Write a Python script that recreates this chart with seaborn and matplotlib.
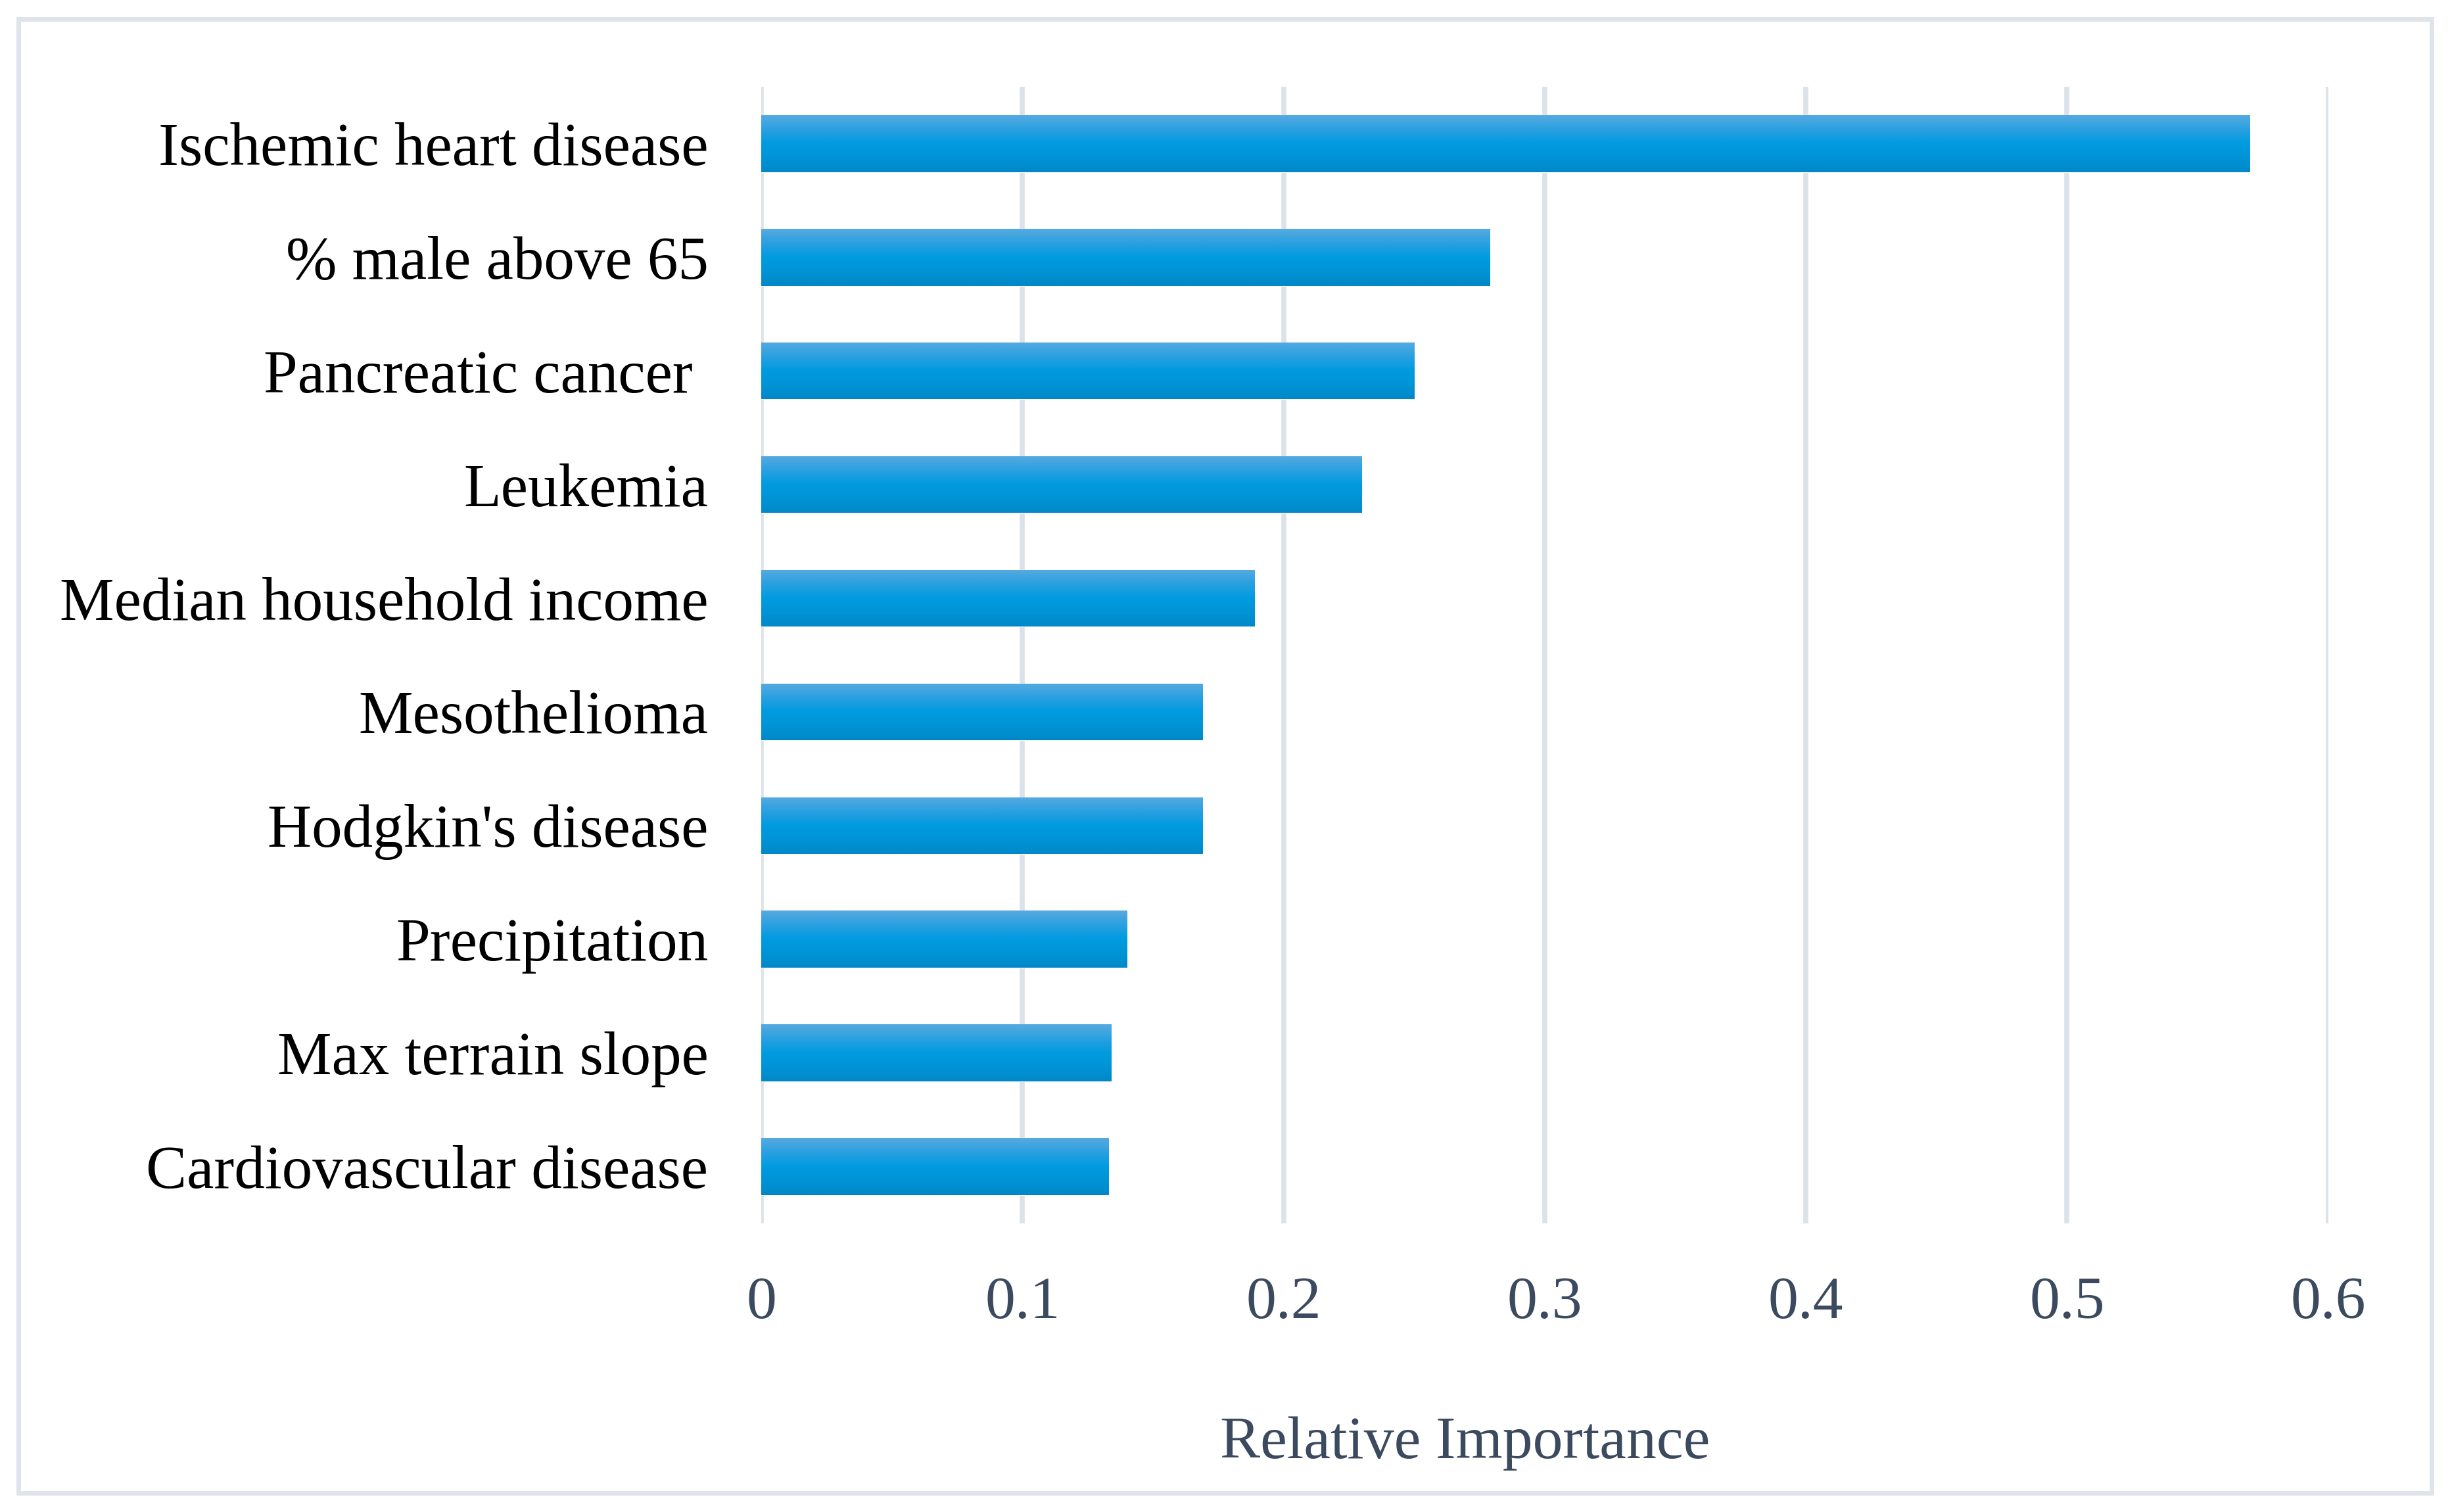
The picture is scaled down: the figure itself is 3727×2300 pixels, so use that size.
import numpy as np
import pandas as pd
import seaborn as sns
import matplotlib.pyplot as plt
from matplotlib.colors import LinearSegmentedColormap
from matplotlib.patches import Rectangle

features = ["Ischemic heart disease", "% male above 65", "Pancreatic cancer ",
            "Leukemia", "Median household income", "Mesothelioma",
            "Hodgkin's disease", "Precipitation", "Max terrain slope",
            "Cardiovascular disease"]
importance = [0.570, 0.279, 0.250, 0.230, 0.189, 0.169, 0.169, 0.140, 0.134, 0.133]
xticks = [0, 0.1, 0.2, 0.3, 0.4, 0.5, 0.6]
xtick_labels = ["0", "0.1", "0.2", "0.3", "0.4", "0.5", "0.6"]

data = pd.DataFrame({"feature": features, "importance": importance})

sns.set_style("white")
plt.rcParams["font.family"] = ["Liberation Serif", "DejaVu Serif"]

fig = plt.figure(figsize=(37.27, 23), dpi=100)
ax = fig.add_axes([0.3107, 0.1909, 0.6396, 0.7517])

bar = sns.barplot(x="importance", y="feature", data=data, color="#0a98dc",
                  width=0.5, orient="h", ax=ax, zorder=3)

# vertical gradient on each bar, like the office-style fill
grad = LinearSegmentedColormap.from_list("g", ["#55aae0", "#2aa0e0", "#009be0", "#0094d6", "#0088c8"])
g = np.linspace(0, 1, 64).reshape(-1, 1)
for p in ax.patches:
    x0, y0 = p.get_x(), p.get_y()
    w, h = p.get_width(), p.get_height()
    im = ax.imshow(g, cmap=grad, aspect="auto", extent=[x0, x0 + w, y0 + h, y0],
                   zorder=4, origin="upper")
    im.set_clip_path(p)

ax.set_xlim(0, 0.6)
ax.set_ylim(9.5, -0.5)
ax.set_xticks(xticks)
ax.set_xticklabels(xtick_labels)
ax.xaxis.grid(True, color="#dce2e9", linewidth=5.5)
ax.yaxis.grid(False)
ax.set_axisbelow(True)
sns.despine(ax=ax, left=True, bottom=True)
ax.tick_params(axis="both", length=0)
ax.tick_params(axis="y", labelsize=67, labelcolor="black", pad=58)
ax.tick_params(axis="x", labelsize=66, labelcolor="#3b4a5e", pad=58)

ax.set_ylabel(None)
ax.set_xlabel("Relative Importance", fontsize=66, color="#3b4a5e")
ax.xaxis.set_label_coords(0.449, -0.17)

# light frame round the whole figure
fig.patches.append(Rectangle((0.0075, 0.0125), 0.985, 0.975, transform=fig.transFigure,
                             fill=False, edgecolor="#dfe4ea", linewidth=5))

plt.savefig("out.png", dpi=100)
